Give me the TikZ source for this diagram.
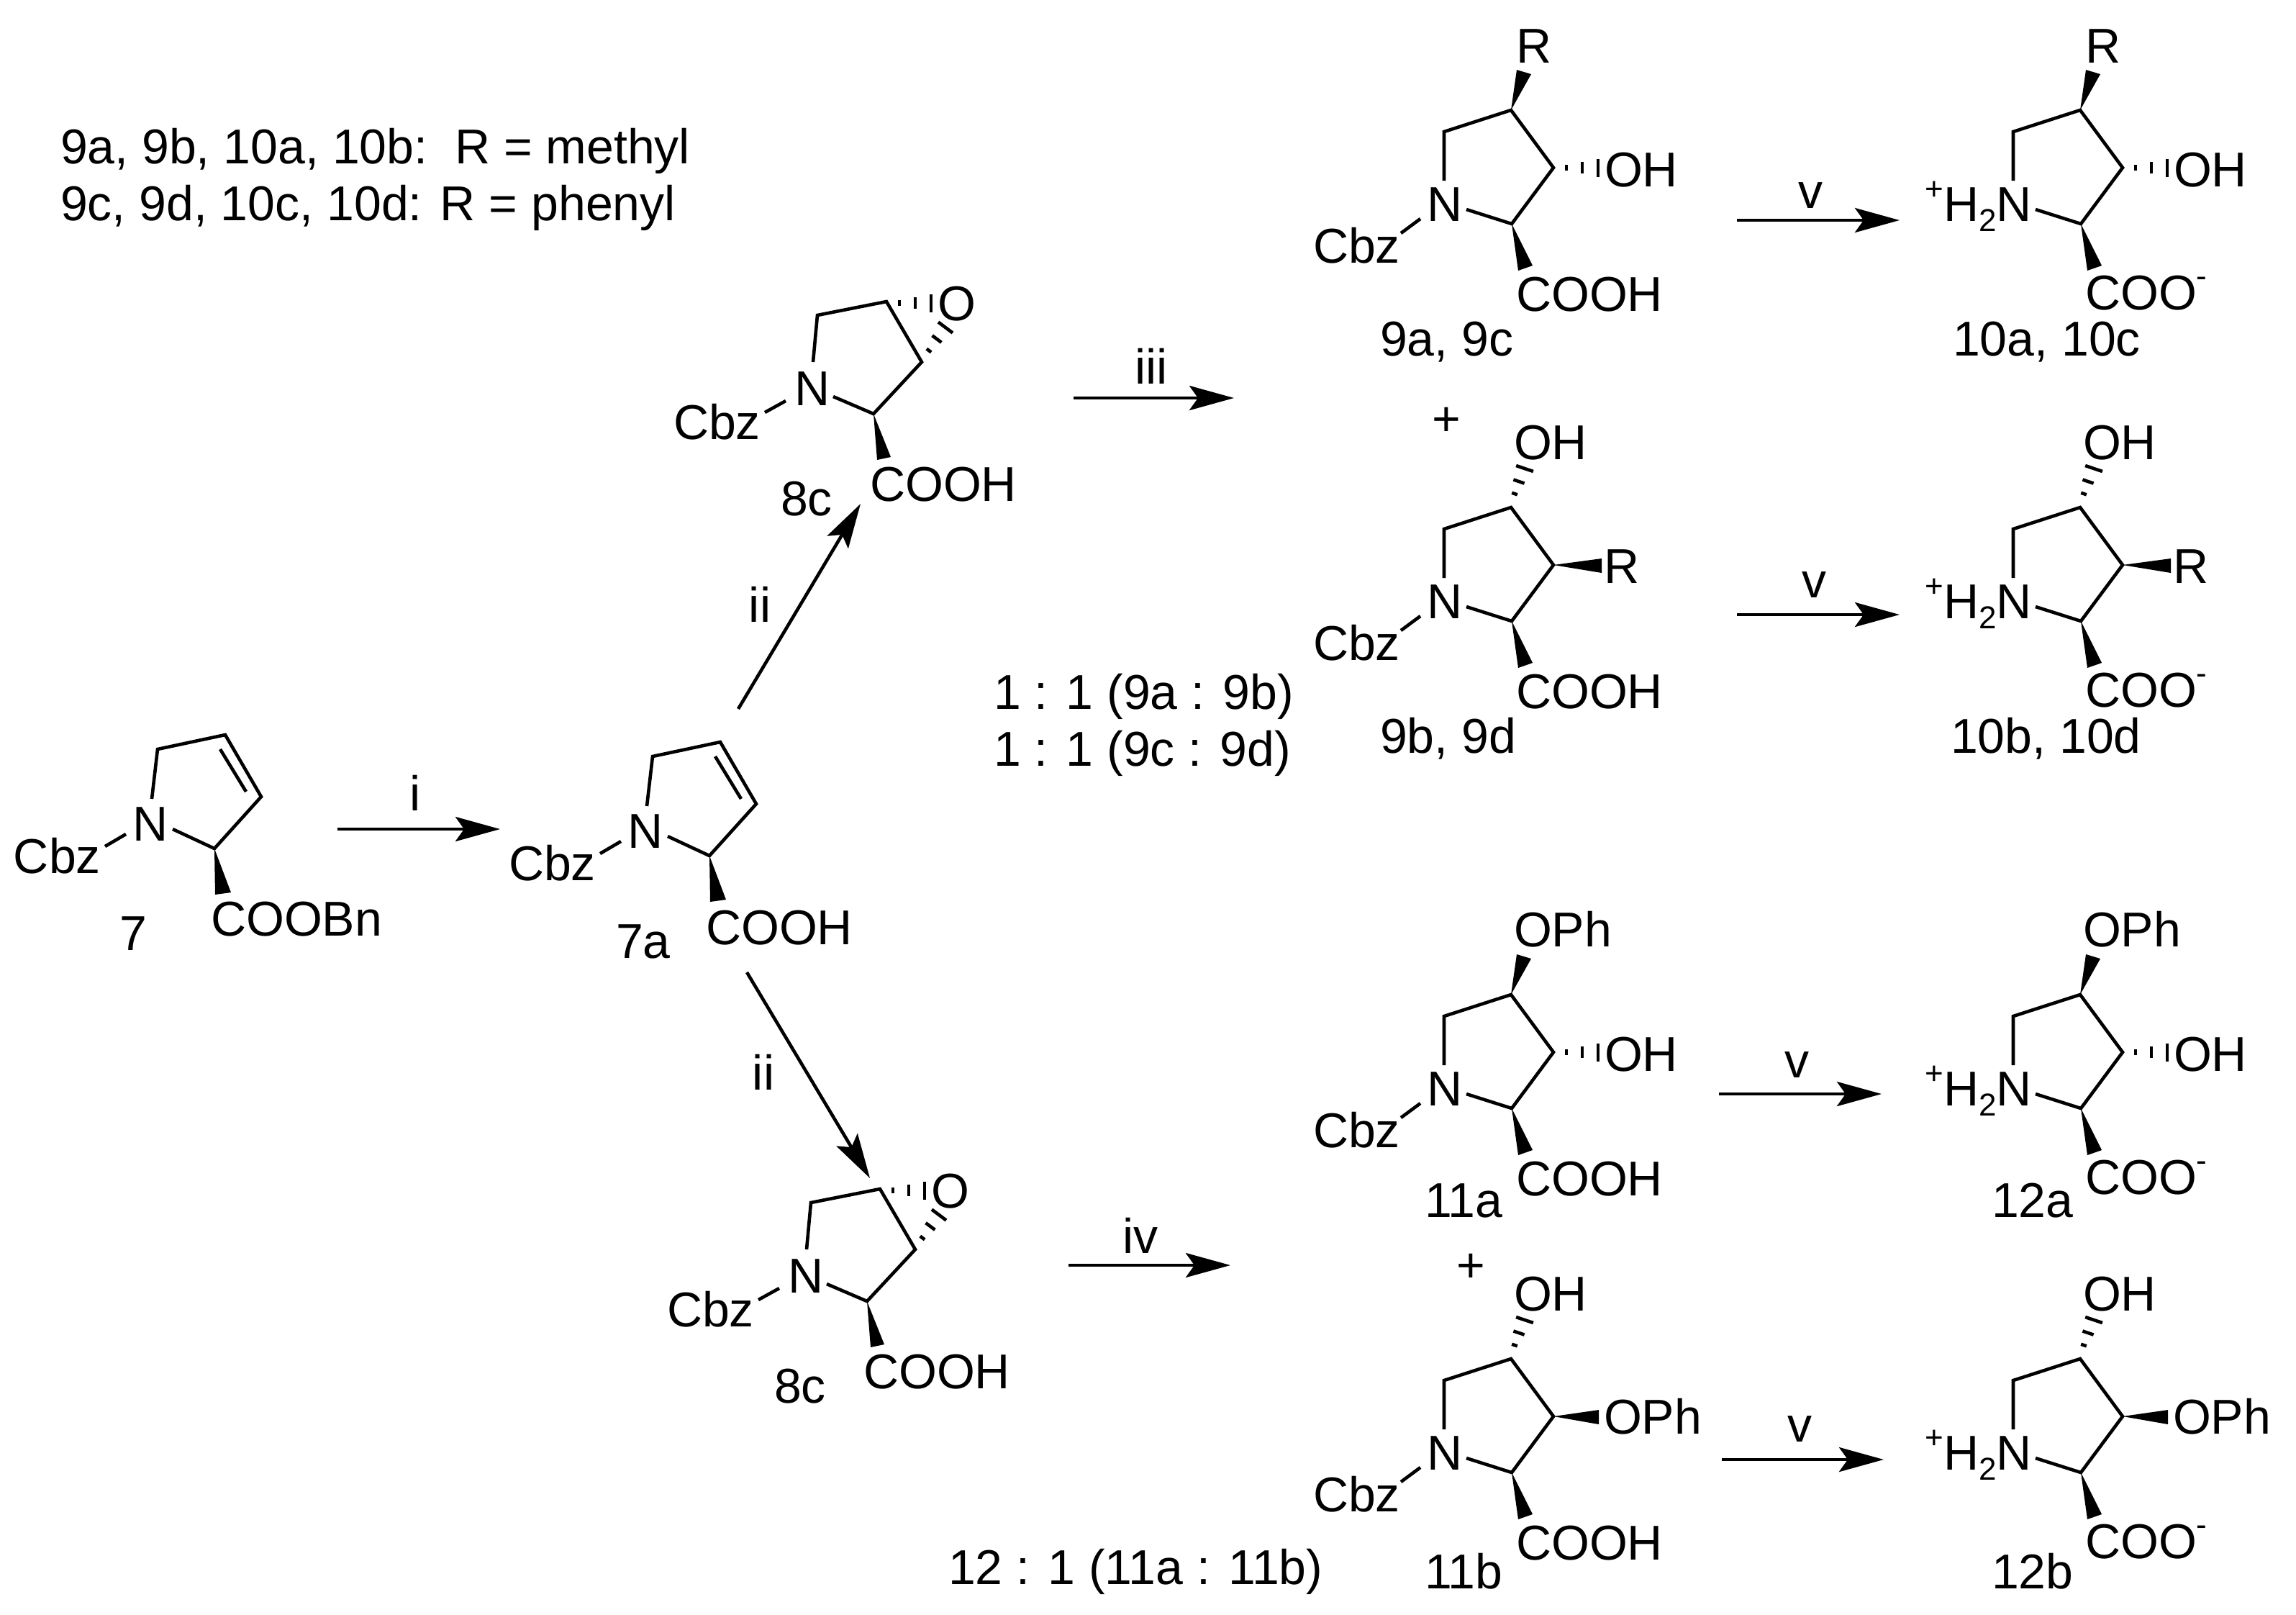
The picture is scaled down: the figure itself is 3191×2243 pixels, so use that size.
\documentclass[tikz,border=0pt]{standalone}
\usepackage{fontspec}
\setmainfont{Liberation Sans}
\usetikzlibrary{arrows.meta}
\newcommand{\bigf}{\fontsize{17pt}{19pt}\selectfont}
\newcommand{\smf}{\fontsize{11pt}{12pt}\selectfont}
\tikzset{
  bond/.style={line width=1.15pt,line cap=butt,line join=miter},
  hashb/.style={line width=1.15pt},
  wedgeb/.style={fill=black,draw=none},
  rxn/.style={line width=1.15pt,-{Stealth[length=15.5pt,width=8.5pt,inset=3pt]}},
  lbl/.style={anchor=base west,inner sep=0pt,outer sep=0pt,font=\bigf},
  lble/.style={anchor=base east,inner sep=0pt,outer sep=0pt,font=\bigf},
  lblc/.style={anchor=base,inner sep=0pt,outer sep=0pt,font=\bigf},
}
% three hash strokes, half lengths 4, 8, 12 along the unit vector (#7,#8)
\newcommand{\hashes}[8]{%
  \draw[hashb] ({#1-4*#7},{#2-4*#8}) -- ({#1+4*#7},{#2+4*#8});
  \draw[hashb] ({#3-8*#7},{#4-8*#8}) -- ({#3+8*#7},{#4+8*#8});
  \draw[hashb] ({#5-12.5*#7},{#6-12.5*#8}) -- ({#5+12.5*#7},{#6+12.5*#8});
}
% pyrrolidine ring skeleton, prefix #1
\newcommand{\ringbase}[1]{%
  \coordinate (#1nu) at (2007,251);
  \coordinate (#1c5) at (2007,183);
  \coordinate (#1c4) at (2100,153);
  \coordinate (#1c3) at (2159,233);
  \coordinate (#1c2) at (2101,311);
  \coordinate (#1nr) at (2038,291);
  \draw[bond] (#1nu) -- (#1c5) -- (#1c4) -- (#1c3) -- (#1c2) -- (#1nr);
  \coordinate (#1w1) at (2110,376);
  \coordinate (#1w2) at (2130,369);
  \fill[wedgeb] (#1c2) -- (#1w1) -- (#1w2) -- cycle;
}
% N-Cbz + COOH decoration
\newcommand{\leftdeco}[1]{%
  \node[lbl] (#1n) at (1983,307) {N};
  \node[lbl] (#1cbz) at (1825,365) {Cbz};
  \coordinate (#1cb1) at (1947,324);
  \coordinate (#1cb2) at (1974,304);
  \draw[bond] (#1cb1) -- (#1cb2);
  \node[lbl] (#1cooh) at (2107,432) {COOH};
}
% ammonium + carboxylate decoration, drawn in right-hand scope
\newcommand{\rightdeco}[1]{%
  \node[lble] (#1n) at (2033,307) {\raisebox{7.3pt}{\smf +}H\raisebox{-3.6pt}{\smf 2}N};
  \node[lbl] (#1coo) at (2107,430) {COO\raisebox{8pt}{\smf -}};
}
% substituent patterns
\newcommand{\wedgeup}[1]{%
  \coordinate (#1u1) at (2108,97);
  \coordinate (#1u2) at (2128,103);
  \fill[wedgeb] (#1c4) -- (#1u1) -- (#1u2) -- cycle;
}
\newcommand{\hashright}{\hashes{2177}{233}{2199}{233}{2221}{233}{0}{1}}
\newcommand{\hashup}{\hashes{2105}{134}{2111}{117}{2119}{99}{0.95}{0.32}}
\newcommand{\wedgeright}[2]{%
  \coordinate (#1r1) at (#2,224);
  \coordinate (#1r2) at (#2,244);
  \fill[wedgeb] (#1c3) -- (#1r1) -- (#1r2) -- cycle;
}
% N-protected epoxide
\newcommand{\epox}[1]{%
  \coordinate (#1nu) at (1130,503);
  \coordinate (#1c5) at (1136,438);
  \coordinate (#1c4) at (1232,419);
  \coordinate (#1c3) at (1281,503);
  \coordinate (#1c2) at (1214,575);
  \coordinate (#1nr) at (1158,551);
  \draw[bond] (#1nu) -- (#1c5) -- (#1c4) -- (#1c3) -- (#1c2) -- (#1nr);
  \coordinate (#1w1) at (1219,639);
  \coordinate (#1w2) at (1238,635);
  \fill[wedgeb] (#1c2) -- (#1w1) -- (#1w2) -- cycle;
  \hashes{1250}{421}{1272}{421}{1294}{421}{0}{1}
  \hashes{1291}{487}{1302}{471}{1314}{455}{0.8}{0.6}
  \node[lbl] (#1o) at (1303,445) {O};
  \node[lbl] (#1n) at (1104,563) {N};
  \node[lbl] (#1cbz) at (936,610) {Cbz};
  \coordinate (#1cb1) at (1063,573);
  \coordinate (#1cb2) at (1092,557);
  \draw[bond] (#1cb1) -- (#1cb2);
  \node[lbl] (#1cooh) at (1209,696) {COOH};
  \node[lbl] (#1lab) at (1085,716) {8c};
}
% dihydropyrrole
\newcommand{\dihyd}[1]{%
  \coordinate (#1nu) at (211,1110);
  \coordinate (#1c5) at (219,1041);
  \coordinate (#1c4) at (313,1021);
  \coordinate (#1c3) at (363,1107);
  \coordinate (#1c2) at (298,1179);
  \coordinate (#1nr) at (240,1152);
  \coordinate (#1d1) at (306,1041);
  \coordinate (#1d2) at (342,1100);
  \draw[bond] (#1nu) -- (#1c5) -- (#1c4) -- (#1c3) -- (#1c2) -- (#1nr);
  \draw[bond] (#1d1) -- (#1d2);
  \coordinate (#1w1) at (299,1243);
  \coordinate (#1w2) at (321,1240);
  \fill[wedgeb] (#1c2) -- (#1w1) -- (#1w2) -- cycle;
  \node[lbl] (#1n) at (184,1168) {N};
  \node[lbl] (#1cbz) at (19,1213) {Cbz};
  \coordinate (#1cb1) at (146,1176);
  \coordinate (#1cb2) at (175,1159);
  \draw[bond] (#1cb1) -- (#1cb2);
}
\begin{document}
\begin{tikzpicture}[x=0.25pt,y=-0.25pt]
\useasboundingbox (0,0) rectangle (3191,2243);
\fill[white] (0,0) rectangle (3191,2243);

% legend
\node[lbl] (leg1) at (84,227) {9a, 9b, 10a, 10b:\ \ R = methyl};
\node[lbl] (leg2) at (84,306) {9c, 9d, 10c, 10d: R = phenyl};

% 7 and 7a
\dihyd{s}
\node[lbl] (scooh) at (293,1300) {COOBn};
\node[lbl] (slab) at (166,1320) {7};
\begin{scope}[shift={(688,10)}]
\dihyd{t}
\node[lbl] (tcooh) at (293,1302) {COOH};
\end{scope}
\node[lbl] (tlab) at (856,1331) {7a};

% epoxides
\epox{e}
\begin{scope}[shift={(-9,1233)}]
\epox{f}
\end{scope}

% 9a
\ringbase{a}\leftdeco{a}\wedgeup{a}\hashright
\node[lbl] (ar) at (2107,87) {R};
\node[lbl] (aoh) at (2230,259) {OH};
% 10a
\begin{scope}[shift={(791,0)}]
\ringbase{b}\rightdeco{b}\wedgeup{b}\hashright
\node[lbl] (br) at (2107,87) {R};
\node[lbl] (boh) at (2230,259) {OH};
\end{scope}
% 9b
\begin{scope}[shift={(0,552)}]
\ringbase{c}\leftdeco{c}\hashup\wedgeright{c}{2226}
\node[lbl] (coh) at (2104,86) {OH};
\node[lbl] (cr) at (2229,258) {R};
\end{scope}
% 10b
\begin{scope}[shift={(791,552)}]
\ringbase{d}\rightdeco{d}\hashup\wedgeright{d}{2226}
\node[lbl] (doh) at (2104,86) {OH};
\node[lbl] (dr) at (2229,258) {R};
\end{scope}
% 11a
\begin{scope}[shift={(0,1229)}]
\ringbase{g}\leftdeco{g}\wedgeup{g}\hashright
\node[lbl] (gop) at (2104,86) {OPh};
\node[lbl] (goh) at (2230,259) {OH};
\end{scope}
% 12a
\begin{scope}[shift={(791,1229)}]
\ringbase{h}\rightdeco{h}\wedgeup{h}\hashright
\node[lbl] (hop) at (2104,86) {OPh};
\node[lbl] (hoh) at (2230,259) {OH};
\end{scope}
% 11b
\begin{scope}[shift={(0,1735)}]
\ringbase{j}\leftdeco{j}\hashup\wedgeright{j}{2222}
\node[lbl] (joh) at (2104,86) {OH};
\node[lbl] (jop) at (2229,257) {OPh};
\end{scope}
% 12b
\begin{scope}[shift={(791,1735)}]
\ringbase{k}\rightdeco{k}\hashup\wedgeright{k}{2222}
\node[lbl] (koh) at (2104,86) {OH};
\node[lbl] (kop) at (2229,257) {OPh};
\end{scope}

% compound labels
\node[lbl] (l9a) at (1918,494) {9a, 9c};
\node[lbl] (l10a) at (2714,494) {10a, 10c};
\node[lblc] (pl1) at (2010,605) {+};
\node[lbl] (l9b) at (1918,1046) {9b, 9d};
\node[lbl] (l10b) at (2711,1046) {10b, 10d};
\node[lbl] (l11a) at (1980,1691) {11a};
\node[lbl] (l12a) at (2768,1691) {12a};
\node[lblc] (pl2) at (2044,1781) {+};
\node[lbl] (l11b) at (1980,2207) {11b};
\node[lbl] (l12b) at (2768,2207) {12b};

% ratios
\node[lbl] (r1) at (1381,985) {1 : 1 (9a : 9b)};
\node[lbl] (r2) at (1381,1064) {1 : 1 (9c : 9d)};
\node[lbl] (r3) at (1318,2201) {12 : 1 (11a : 11b)};

% arrows
\coordinate (i1) at (469,1152); \coordinate (i2) at (695,1152);
\draw[rxn] (i1) -- (i2);
\node[lblc] (li) at (577,1126) {i};
\coordinate (u1) at (1026,985); \coordinate (u2) at (1196,700);
\draw[rxn] (u1) -- (u2);
\node[lblc] (lu) at (1056,864) {ii};
\coordinate (w1) at (1038,1351); \coordinate (w2) at (1209,1637);
\draw[rxn] (w1) -- (w2);
\node[lblc] (lw) at (1061,1514) {ii};
\coordinate (iii1) at (1492,553); \coordinate (iii2) at (1715,553);
\draw[rxn] (iii1) -- (iii2);
\node[lblc] (liii) at (1600,533) {iii};
\coordinate (iv1) at (1485,1758); \coordinate (iv2) at (1710,1758);
\draw[rxn] (iv1) -- (iv2);
\node[lblc] (liv) at (1585,1741) {iv};
\coordinate (v1a) at (2414,306); \coordinate (v1b) at (2640,306);
\draw[rxn] (v1a) -- (v1b);
\node[lblc] (lv1) at (2516,289) {v};
\coordinate (v2a) at (2414,854); \coordinate (v2b) at (2640,854);
\draw[rxn] (v2a) -- (v2b);
\node[lblc] (lv2) at (2521,830) {v};
\coordinate (v3a) at (2389,1520); \coordinate (v3b) at (2615,1520);
\draw[rxn] (v3a) -- (v3b);
\node[lblc] (lv3) at (2497,1497) {v};
\coordinate (v4a) at (2393,2028); \coordinate (v4b) at (2618,2028);
\draw[rxn] (v4a) -- (v4b);
\node[lblc] (lv4) at (2501,2003) {v};
\end{tikzpicture}
\end{document}
